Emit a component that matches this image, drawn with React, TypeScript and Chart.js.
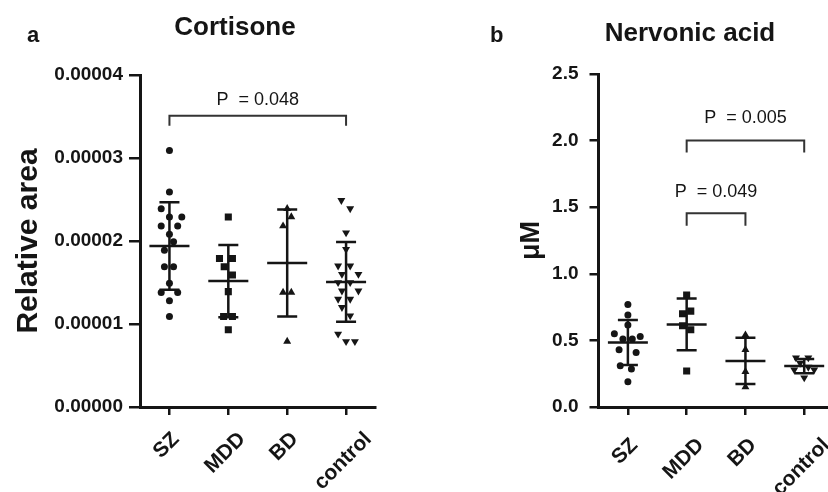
import React, { useEffect, useRef } from 'react';
import { Chart, registerables } from 'chart.js';
Chart.register(...registerables);

const INK = '#151515';
const FONT = '"Liberation Sans", Arial, Helvetica, sans-serif';

const categories = ['SZ', 'MDD', 'BD', 'control'];

// Panel a — Cortisone (relative area)
const cortisoneSZ = [3.09e-5, 2.59e-5, 2.39e-5, 2.29e-5, 2.29e-5, 2.18e-5, 2.18e-5, 2.08e-5, 1.99e-5, 1.89e-5, 1.69e-5, 1.69e-5, 1.49e-5, 1.38e-5, 1.38e-5, 1.28e-5, 1.09e-5];
const cortisoneSZSpread = [0, 0, -0.14, 0, 0.21, -0.14, 0.14, 0, 0.07, -0.085, -0.085, 0.07, 0, -0.14, 0.14, 0, 0];
const cortisoneMDD = [2.29e-5, 1.79e-5, 1.79e-5, 1.69e-5, 1.59e-5, 1.39e-5, 1.09e-5, 1.09e-5, 0.93e-5];
const cortisoneMDDSpread = [0, -0.15, 0.07, -0.07, 0.07, 0, -0.08, 0.07, 0];
const cortisoneBD = [2.39e-5, 2.29e-5, 2.18e-5, 1.38e-5, 1.38e-5, 0.79e-5];
const cortisoneBDSpread = [0, 0.07, -0.07, -0.07, 0.07, 0];
const cortisoneControl = [2.49e-5, 2.39e-5, 2.10e-5, 1.90e-5, 1.70e-5, 1.70e-5, 1.60e-5, 1.60e-5, 1.50e-5, 1.50e-5, 1.40e-5, 1.40e-5, 1.30e-5, 1.30e-5, 1.20e-5, 1.10e-5, 0.88e-5, 0.79e-5, 0.79e-5];
const cortisoneControlSpread = [-0.08, 0.07, 0, 0, -0.135, 0.07, -0.07, 0.21, -0.135, 0.07, -0.07, 0.21, -0.135, 0.07, -0.07, 0.07, -0.135, 0, 0.15];
const cortisoneTicks = [0, 1e-5, 2e-5, 3e-5, 4e-5];

// Panel b — Nervonic acid (µM)
const nervonicSZ = [0.77, 0.69, 0.615, 0.55, 0.53, 0.51, 0.51, 0.43, 0.41, 0.31, 0.285, 0.19];
const nervonicSZSpread = [0, 0, 0, -0.23, 0.21, -0.085, 0.075, -0.15, 0.14, -0.13, 0.06, 0];
const nervonicMDD = [0.84, 0.72, 0.70, 0.61, 0.58, 0.27];
const nervonicMDDSpread = [0, 0.07, -0.07, -0.07, 0.07, 0];
const nervonicBD = [0.54, 0.43, 0.265, 0.15];
const nervonicBDSpread = [0, 0, 0, 0];
const nervonicControl = [0.37, 0.37, 0.33, 0.30, 0.28, 0.28, 0.22];
const nervonicControlSpread = [-0.14, 0.07, -0.07, 0.07, -0.17, 0.17, 0];
const nervonicTicks = [0, 0.5, 1.0, 1.5, 2.0, 2.5];

const pointStyles = [
  { pointStyle: 'circle', radius: 3.5, rotation: 0 },
  { pointStyle: 'rect', radius: 5, rotation: 0 },
  { pointStyle: 'triangle', radius: 4.6, rotation: 0 },
  { pointStyle: 'triangle', radius: 4.6, rotation: 180 },
];

const mean = (a: number[]) => a.reduce((s, v) => s + v, 0) / a.length;
const sd = (a: number[]) => {
  const m = mean(a);
  return Math.sqrt(a.reduce((s, v) => s + (v - m) * (v - m), 0) / (a.length - 1));
};

type Bracket = { from: number; to: number; top: number; foot: number; label: string; gap: number };
type Panel = {
  letter: string; title: string; yTitle: string;
  groups: { values: number[]; spread: number[] }[];
  ticks: number[]; decimals: number;
  brackets: Bracket[];
  width: number; left: number; axisWidth: number; padRight: number; padTop: number;
  tickLen: number; tickPad: number;
  letterX: number; titleX: number; titleBase: number; yTitleX: number; yTitleSize: number;
  catEndY: number;
};

const panelA: Panel = {
  letter: 'a', title: 'Cortisone', yTitle: 'Relative area',
  groups: [
    { values: cortisoneSZ, spread: cortisoneSZSpread },
    { values: cortisoneMDD, spread: cortisoneMDDSpread },
    { values: cortisoneBD, spread: cortisoneBDSpread },
    { values: cortisoneControl, spread: cortisoneControlSpread },
  ],
  ticks: cortisoneTicks, decimals: 5,
  brackets: [{ from: 0, to: 3, top: 3.51e-5, foot: 3.39e-5, label: 'P  = 0.048', gap: 11 }],
  width: 414, left: 0, axisWidth: 140, padRight: 38.5, padTop: 75,
  tickLen: 11, tickPad: 6,
  letterX: 27, titleX: 235, titleBase: 35, yTitleX: 29, yTitleSize: 30,
  catEndY: 436,
};

const panelB: Panel = {
  letter: 'b', title: 'Nervonic acid', yTitle: 'μM',
  groups: [
    { values: nervonicSZ, spread: nervonicSZSpread },
    { values: nervonicMDD, spread: nervonicMDDSpread },
    { values: nervonicBD, spread: nervonicBDSpread },
    { values: nervonicControl, spread: nervonicControlSpread },
  ],
  ticks: nervonicTicks, decimals: 1,
  brackets: [
    { from: 1, to: 3, top: 2.0, foot: 1.91, label: 'P  = 0.005', gap: 18 },
    { from: 1, to: 2, top: 1.455, foot: 1.36, label: 'P  = 0.049', gap: 16 },
  ],
  width: 440, left: 414, axisWidth: 184.5, padRight: 20.4, padTop: 74,
  tickLen: 9, tickPad: 11,
  letterX: 76, titleX: 276, titleBase: 41, yTitleX: 118, yTitleSize: 27,
  catEndY: 442,
};

const annotPlugin = {
  id: 'annot',
  afterDatasetsDraw(chart: any, _args: any, opts: any) {
    const p: Panel = opts.panel;
    const { ctx } = chart;
    const x = chart.scales.x, y = chart.scales.y;
    ctx.save();
    ctx.strokeStyle = INK;
    ctx.fillStyle = INK;
    ctx.lineWidth = 2.5;
    p.groups.forEach((g, i) => {
      const m = mean(g.values), s = sd(g.values);
      const cx = x.getPixelForValue(i);
      const mh = x.getPixelForValue(i + 0.34) - cx;
      const ch = x.getPixelForValue(i + 0.17) - cx;
      const ym = y.getPixelForValue(m), yt = y.getPixelForValue(m + s), yb = y.getPixelForValue(m - s);
      ctx.beginPath();
      ctx.moveTo(cx, yt); ctx.lineTo(cx, yb);
      ctx.moveTo(cx - ch, yt); ctx.lineTo(cx + ch, yt);
      ctx.moveTo(cx - ch, yb); ctx.lineTo(cx + ch, yb);
      ctx.moveTo(cx - mh, ym); ctx.lineTo(cx + mh, ym);
      ctx.stroke();
    });
    ctx.lineWidth = 2;
    ctx.strokeStyle = '#333';
    ctx.font = `18px ${FONT}`;
    ctx.textAlign = 'center';
    ctx.textBaseline = 'alphabetic';
    p.brackets.forEach((b) => {
      const x1 = x.getPixelForValue(b.from), x2 = x.getPixelForValue(b.to);
      const yt = y.getPixelForValue(b.top), yf = y.getPixelForValue(b.foot);
      ctx.beginPath();
      ctx.moveTo(x1, yf); ctx.lineTo(x1, yt); ctx.lineTo(x2, yt); ctx.lineTo(x2, yf);
      ctx.stroke();
      ctx.fillStyle = INK;
      ctx.fillText(b.label, (x1 + x2) / 2, yt - b.gap);
    });
    ctx.restore();
  },
  afterDraw(chart: any, _args: any, opts: any) {
    const p: Panel = opts.panel;
    const { ctx, chartArea } = chart;
    const x = chart.scales.x;
    ctx.save();
    ctx.fillStyle = INK;
    ctx.textBaseline = 'alphabetic';
    ctx.font = `bold 22px ${FONT}`;
    ctx.textAlign = 'left';
    ctx.fillText(p.letter, p.letterX, 42);
    ctx.font = `bold 26px ${FONT}`;
    ctx.textAlign = 'center';
    ctx.fillText(p.title, p.titleX, p.titleBase);

    // category labels, rotated 45°, centred under each tick
    ctx.font = `bold 21px ${FONT}`;
    ctx.textBaseline = 'middle';
    categories.forEach((c, i) => {
      const w = ctx.measureText(c).width;
      const cx = x.getPixelForValue(i) - 3;
      const cy = p.catEndY + (w / 2) * Math.SQRT1_2;
      ctx.save();
      ctx.translate(cx, cy);
      ctx.rotate(-Math.PI / 4);
      ctx.textAlign = 'center';
      ctx.fillText(c, 0, 0);
      ctx.restore();
    });

    ctx.translate(p.yTitleX, (chartArea.top + chartArea.bottom) / 2);
    ctx.rotate(-Math.PI / 2);
    ctx.font = `bold ${p.yTitleSize}px ${FONT}`;
    ctx.textAlign = 'center';
    ctx.textBaseline = 'middle';
    ctx.fillText(p.yTitle, 0, 0);
    ctx.restore();
  },
};

function PanelChart({ panel }: { panel: Panel }) {
  const ref = useRef<HTMLCanvasElement>(null);
  useEffect(() => {
    if (!ref.current) return;
    const datasets = panel.groups.map((g, i) => ({
      label: categories[i],
      data: g.values.map((v, j) => ({ x: i + g.spread[j], y: v })),
      pointStyle: pointStyles[i].pointStyle as any,
      pointRadius: pointStyles[i].radius,
      pointRotation: pointStyles[i].rotation,
      backgroundColor: INK,
      borderColor: INK,
      borderWidth: 0,
    }));
    const chart = new Chart(ref.current, {
      type: 'scatter',
      data: { datasets },
      options: {
        responsive: false,
        animation: false,
        events: [],
        layout: { padding: { left: 0, right: panel.padRight, top: panel.padTop, bottom: 0 } },
        plugins: { legend: { display: false }, tooltip: { enabled: false }, annot: { panel } } as any,
        scales: {
          x: {
            type: 'linear',
            min: -0.5,
            max: 3.5,
            afterBuildTicks: (s: any) => { s.ticks = categories.map((_, i) => ({ value: i })); },
            afterFit: (s: any) => { s.height = 85; },
            grid: { drawOnChartArea: false, drawTicks: true, tickLength: 8, color: INK, lineWidth: 2.5 },
            border: { display: true, color: INK, width: 3 },
            ticks: { display: false },
          },
          y: {
            type: 'linear',
            min: panel.ticks[0],
            max: panel.ticks[panel.ticks.length - 1],
            afterBuildTicks: (s: any) => { s.ticks = panel.ticks.map((v) => ({ value: v })); },
            afterFit: (s: any) => { s.width = panel.axisWidth; },
            grid: { drawOnChartArea: false, drawTicks: true, tickLength: panel.tickLen, color: INK, lineWidth: 2.5 },
            border: { display: true, color: INK, width: 3 },
            ticks: {
              padding: panel.tickPad,
              color: INK,
              font: { family: FONT, size: 19, weight: 'bold' },
              callback: (v: any) => Number(v).toFixed(panel.decimals),
            },
          },
        },
      },
      plugins: [annotPlugin as any],
    });
    return () => chart.destroy();
  }, [panel]);
  return (
    <canvas
      ref={ref}
      width={panel.width}
      height={492}
      style={{ position: 'absolute', left: panel.left, top: 0, width: panel.width, height: 492 }}
    />
  );
}

export default function App() {
  return (
    <div style={{ position: 'fixed', left: 0, top: 0, width: 828, height: 492, overflow: 'hidden', background: '#fff' }}>
      <PanelChart panel={panelA} />
      <PanelChart panel={panelB} />
    </div>
  );
}
